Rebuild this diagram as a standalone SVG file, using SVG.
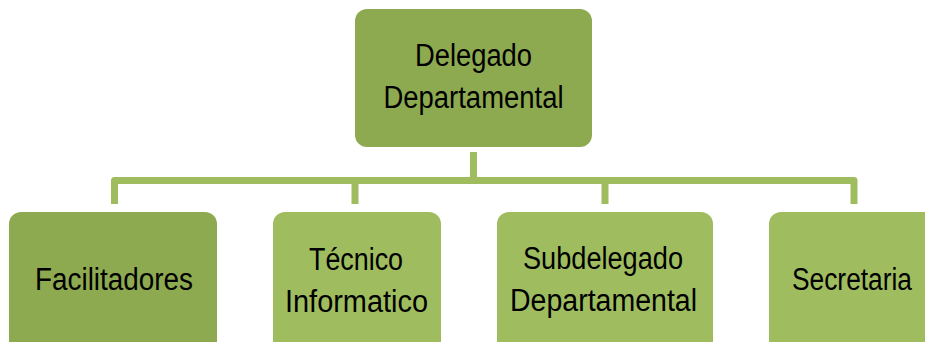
<svg xmlns="http://www.w3.org/2000/svg" width="925" height="342" viewBox="0 0 925 342">
<style>
.dark{fill:#8eaa50}
.light{fill:#9fbd5f}
.conn{fill:none;stroke:#9fbd5f;stroke-width:7;stroke-linejoin:round}
text{font-family:"Liberation Sans","DejaVu Sans",sans-serif;font-size:31px;fill:#000;text-anchor:middle}
</style>
<rect width="925" height="342" fill="#ffffff"/>
<g id="connectors">
<path class="conn" d="M473.5,152 V180.5"/>
<path class="conn" d="M114.5,204 V180.5 H854 V204"/>
<path class="conn" d="M355,180.5 V204"/>
<path class="conn" d="M605,180.5 V204"/>
</g>
<g id="delegado">
<rect class="dark" x="355" y="9" width="237" height="138" rx="12"/>
<text x="473.5" y="66" textLength="117" lengthAdjust="spacingAndGlyphs">Delegado</text>
<text x="473.5" y="108" textLength="180" lengthAdjust="spacingAndGlyphs">Departamental</text>
</g>
<g id="facilitadores">
<rect class="dark" x="9" y="212" width="208" height="150" rx="12"/>
<text x="114" y="290" textLength="158" lengthAdjust="spacingAndGlyphs">Facilitadores</text>
</g>
<g id="tecnico">
<rect class="light" x="273" y="212" width="168" height="150" rx="12"/>
<text x="356" y="270" textLength="94" lengthAdjust="spacingAndGlyphs">Técnico</text>
<text x="356.5" y="312" textLength="143" lengthAdjust="spacingAndGlyphs">Informatico</text>
</g>
<g id="subdelegado">
<rect class="light" x="497" y="212" width="216" height="150" rx="12"/>
<text x="603" y="269" textLength="160" lengthAdjust="spacingAndGlyphs">Subdelegado</text>
<text x="603.5" y="311" textLength="187" lengthAdjust="spacingAndGlyphs">Departamental</text>
</g>
<g id="secretaria">
<path class="light" d="M781,212 H925 V342 H769 V224 A12,12 0 0 1 781,212 Z"/>
<text x="852" y="290" textLength="120" lengthAdjust="spacingAndGlyphs">Secretaria</text>
</g>
</svg>
